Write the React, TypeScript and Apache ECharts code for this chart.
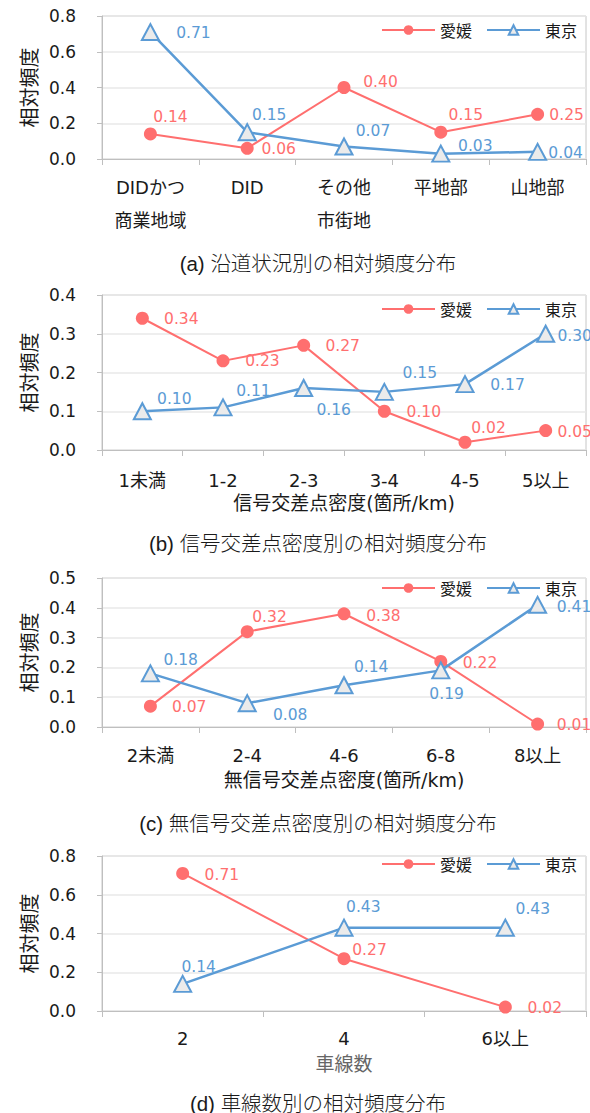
import { useEffect, useRef } from "react";
import * as echarts from "echarts";

// ---- data ----------------------------------------------------------------
const seriesNames = ["愛媛", "東京"];
const yAxisTitle = "相対頻度";

// (a) roadside condition
const roadsideCategories = ["DIDかつ\n商業地域", "DID", "その他\n市街地", "平地部", "山地部"];
const roadsideEhime = [0.14, 0.06, 0.4, 0.15, 0.25];
const roadsideTokyo = [0.71, 0.15, 0.07, 0.03, 0.04];
const roadsideTicks = [0, 0.2, 0.4, 0.6, 0.8];

// (b) signalised intersection density
const signalCategories = ["1未満", "1-2", "2-3", "3-4", "4-5", "5以上"];
const signalEhime = [0.34, 0.23, 0.27, 0.1, 0.02, 0.05];
const signalTokyo = [0.1, 0.11, 0.16, 0.15, 0.17, 0.3];
const signalTicks = [0, 0.1, 0.2, 0.3, 0.4];

// (c) unsignalised intersection density
const unsignalCategories = ["2未満", "2-4", "4-6", "6-8", "8以上"];
const unsignalEhime = [0.07, 0.32, 0.38, 0.22, 0.01];
const unsignalTokyo = [0.18, 0.08, 0.14, 0.19, 0.41];
const unsignalTicks = [0, 0.1, 0.2, 0.3, 0.4, 0.5];

// (d) number of lanes
const laneCategories = ["2", "4", "6以上"];
const laneEhime = [0.71, 0.27, 0.02];
const laneTokyo = [0.14, 0.43, 0.43];
const laneTicks = [0, 0.2, 0.4, 0.6, 0.8];

const panelTitles = [
  "(a) 沿道状況別の相対頻度分布",
  "(b) 信号交差点密度別の相対頻度分布",
  "(c) 無信号交差点密度別の相対頻度分布",
  "(d) 車線数別の相対頻度分布",
];
const xAxisTitles = ["", "信号交差点密度(箇所/km)", "無信号交差点密度(箇所/km)", "車線数"];

// ---- styling -------------------------------------------------------------
const RED = "#ff6f6f";
const BLUE = "#5b9bd5";
const TEXT = "#1a1a1a";
const AXIS = "#bfbfbf";
const SPLIT = "#e8e8e8";
const LATIN = "'DejaVu Sans', 'Noto Sans CJK JP', sans-serif";
const CJK = "'Noto Sans CJK JP', sans-serif";
const TITLE_FONT = "'Liberation Sans', 'Noto Sans CJK JP', sans-serif";

// label nudges (px, relative to each marker centre)
const roadsideEhimeLabelShift = [[20, -17], [31.5, 1], [36.5, -5.5], [25, -17], [29, 1]];
const roadsideTokyoLabelShift = [[43, 1], [22, -17], [29, -15], [34.5, -8], [28, 1.5]];
const signalEhimeLabelShift = [[39, 1], [39.4, 0.4], [39, 1], [39.5, 1], [23.5, -14], [29, 1]];
const signalTokyoLabelShift = [[32, -12.4], [30.4, -16.6], [30, 21.7], [35.5, -18.8], [42.5, 1.3], [29, 2.4]];
const unsignalEhimeLabelShift = [[38.8, 1], [22.3, -14.6], [39.4, 2.2], [39.2, 1.2], [36.4, 1.3]];
const unsignalTokyoLabelShift = [[30.3, -13.8], [43, 12], [27.2, -18.3], [5.8, 23.2], [36.4, 2.2]];
const laneEhimeLabelShift = [[39.2, 2], [25.5, -8.4], [39.5, 0.5]];
const laneTokyoLabelShift = [[16, -17], [19.3, -20.7], [27.5, -19.1]];

type Panel = {
  categories: string[];
  ehime: number[];
  tokyo: number[];
  ticks: number[];
  ehimeShift: number[][];
  tokyoShift: number[][];
  title: string;
  xName: string;
  xNameColor: string;
  gridTop: number;
  gridHeight: number;
  labelMargin: number;
  labelLineHeight: number;
  nameGap: number;
  legendTop: number;
  titleY: number;
};

const panels: Panel[] = [
  {
    categories: roadsideCategories, ehime: roadsideEhime, tokyo: roadsideTokyo, ticks: roadsideTicks,
    ehimeShift: roadsideEhimeLabelShift, tokyoShift: roadsideTokyoLabelShift,
    title: panelTitles[0], xName: xAxisTitles[0], xNameColor: TEXT,
    gridTop: 16, gridHeight: 143, labelMargin: 12, labelLineHeight: 33, nameGap: 40,
    legendTop: 17, titleY: 263,
  },
  {
    categories: signalCategories, ehime: signalEhime, tokyo: signalTokyo, ticks: signalTicks,
    ehimeShift: signalEhimeLabelShift, tokyoShift: signalTokyoLabelShift,
    title: panelTitles[1], xName: xAxisTitles[1], xNameColor: TEXT,
    gridTop: 295, gridHeight: 155, labelMargin: 20, labelLineHeight: 20, nameGap: 43,
    legendTop: 296, titleY: 543,
  },
  {
    categories: unsignalCategories, ehime: unsignalEhime, tokyo: unsignalTokyo, ticks: unsignalTicks,
    ehimeShift: unsignalEhimeLabelShift, tokyoShift: unsignalTokyoLabelShift,
    title: panelTitles[2], xName: xAxisTitles[2], xNameColor: TEXT,
    gridTop: 578, gridHeight: 149, labelMargin: 18, labelLineHeight: 20, nameGap: 43,
    legendTop: 575, titleY: 823,
  },
  {
    categories: laneCategories, ehime: laneEhime, tokyo: laneTokyo, ticks: laneTicks,
    ehimeShift: laneEhimeLabelShift, tokyoShift: laneTokyoLabelShift,
    title: panelTitles[3], xName: xAxisTitles[3], xNameColor: "#666666",
    gridTop: 856, gridHeight: 155, labelMargin: 17.5, labelLineHeight: 20, nameGap: 43,
    legendTop: 851, titleY: 1103,
  },
];

function buildOption() {
  const grid = panels.map((p) => ({
    left: 102,
    width: 484,
    top: p.gridTop,
    height: p.gridHeight,
    show: true,
    borderColor: "#c6c6c6",
    borderWidth: 1,
    backgroundColor: "transparent",
  }));

  const xAxis = panels.map((p, i) => ({
    type: "category",
    gridIndex: i,
    data: p.categories,
    boundaryGap: true,
    name: p.xName,
    nameLocation: "middle",
    nameGap: p.nameGap,
    nameTextStyle: { fontSize: 19, color: p.xNameColor, fontFamily: LATIN },
    axisLine: { lineStyle: { color: AXIS, width: 1 } },
    axisTick: { show: true, length: 6, alignWithLabel: false, lineStyle: { color: AXIS } },
    axisLabel: {
      fontSize: 18,
      color: TEXT,
      fontFamily: LATIN,
      margin: p.labelMargin,
      lineHeight: p.labelLineHeight,
      interval: 0,
    },
    splitLine: { show: false },
  }));

  const yAxis = panels.map((p, i) => ({
    type: "value",
    gridIndex: i,
    min: p.ticks[0],
    max: p.ticks[p.ticks.length - 1],
    interval: p.ticks[1] - p.ticks[0],
    name: yAxisTitle,
    nameLocation: "middle",
    nameGap: 62,
    nameRotate: 90,
    nameTextStyle: { fontSize: 20, color: TEXT, fontFamily: CJK },
    axisLine: { show: true, lineStyle: { color: AXIS, width: 1 } },
    axisTick: { show: true, length: 5, lineStyle: { color: AXIS } },
    axisLabel: {
      fontSize: 17,
      color: TEXT,
      fontFamily: LATIN,
      margin: 26,
      formatter: (v: number) => v.toFixed(1),
    },
    splitLine: { show: true, lineStyle: { color: SPLIT, width: 1.5 } },
  }));

  const fmt = (prm: any) => Number(prm.value).toFixed(2);

  const series: any[] = [];
  panels.forEach((p, i) => {
    series.push({
      type: "line",
      name: seriesNames[0],
      xAxisIndex: i,
      yAxisIndex: i,
      data: p.ehime.map((v, j) => ({ value: v, label: { offset: p.ehimeShift[j] } })),
      symbol: "circle",
      symbolSize: 13,
      showAllSymbol: true,
      itemStyle: { color: RED },
      lineStyle: { color: RED, width: 2 },
      label: {
        show: true,
        position: "inside",
        formatter: fmt,
        color: RED,
        fontSize: 15.5,
        fontFamily: LATIN,
      },
      emphasis: { disabled: true },
      z: 2,
    });
    series.push({
      type: "line",
      name: seriesNames[1],
      xAxisIndex: i,
      yAxisIndex: i,
      data: p.tokyo.map((v, j) => ({ value: v, label: { offset: p.tokyoShift[j] } })),
      symbol: "triangle",
      symbolSize: [17, 16],
      showAllSymbol: true,
      itemStyle: { color: "#ebebeb", borderColor: BLUE, borderWidth: 2 },
      lineStyle: { color: BLUE, width: 2.5 },
      label: {
        show: true,
        position: "inside",
        formatter: fmt,
        color: BLUE,
        fontSize: 15.5,
        fontFamily: LATIN,
      },
      emphasis: { disabled: true },
      z: 3,
    });
  });

  const legend = panels.map((p) => ({
    data: seriesNames,
    top: p.legendTop,
    right: 8,
    itemWidth: 53,
    itemHeight: 12,
    itemGap: 14,
    selectedMode: false,
    textStyle: { fontSize: 16, color: TEXT, fontFamily: CJK },
  }));

  const graphic = panels.map((p) => ({
    type: "text",
    x: 318,
    y: p.titleY,
    silent: true,
    style: {
      text: p.title,
      fill: TEXT,
      fontSize: 20.5,
      fontFamily: TITLE_FONT,
      fontWeight: 300,
      align: "center",
      verticalAlign: "middle",
    },
  }));

  return {
    animation: false,
    backgroundColor: "#ffffff",
    grid,
    xAxis,
    yAxis,
    legend,
    series,
    graphic,
  };
}

export default function App() {
  const ref = useRef<HTMLDivElement>(null);

  useEffect(() => {
    if (!ref.current) return;
    const chart = echarts.init(ref.current, undefined, { renderer: "svg" });
    chart.setOption(buildOption() as any);
    return () => chart.dispose();
  }, []);

  return (
    <div
      ref={ref}
      style={{ position: "absolute", left: 0, top: 0, width: 590, height: 1113, background: "#fff" }}
    />
  );
}
